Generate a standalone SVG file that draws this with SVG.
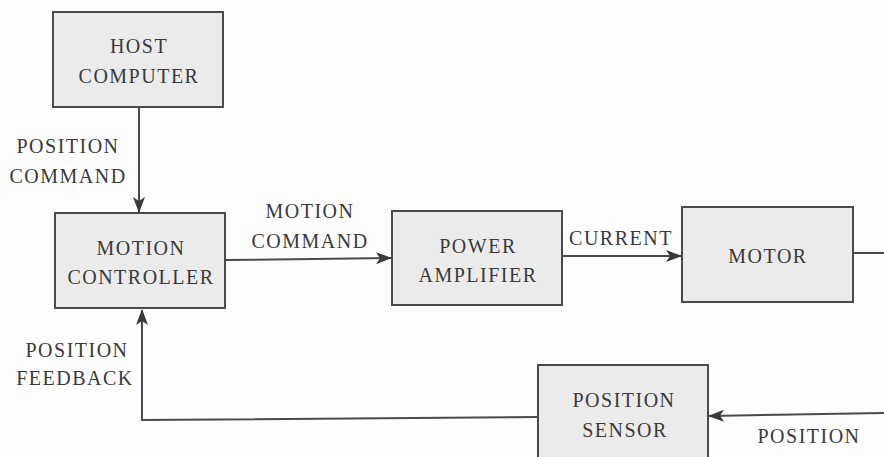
<svg xmlns="http://www.w3.org/2000/svg" width="884" height="457" viewBox="0 0 884 457" font-family="Liberation Serif, DejaVu Serif, serif">
<defs>
<marker id="ah" viewBox="0 0 16 12" refX="15" refY="6" markerWidth="16" markerHeight="12" markerUnits="userSpaceOnUse" orient="auto">
<path d="M0,0 L16,6 L0,12 L4,6 Z" fill="#3a3a3a"/>
</marker>
</defs>
<style>
.box{fill:#ebebeb;stroke:#4a4a4a;stroke-width:2}
.t{font-size:20px;letter-spacing:1.5px;fill:#3a3a3a;text-anchor:middle}
.c{fill:none;stroke:#4a4a4a;stroke-width:2}
</style>
<rect width="884" height="457" fill="#fdfdfd"/>
<g id="host-computer">
<rect class="box" x="53" y="12" width="170" height="95"/>
<text class="t" x="139" y="53">HOST</text>
<text class="t" x="139" y="83">COMPUTER</text>
</g>
<g id="motion-controller">
<rect class="box" x="55" y="213" width="170" height="95"/>
<text class="t" x="141" y="255">MOTION</text>
<text class="t" x="141" y="284">CONTROLLER</text>
</g>
<g id="power-amplifier">
<rect class="box" x="392" y="211" width="170" height="94"/>
<text class="t" x="478" y="253">POWER</text>
<text class="t" x="478" y="282">AMPLIFIER</text>
</g>
<g id="motor">
<rect class="box" x="682" y="207" width="171" height="95"/>
<text class="t" x="768" y="263">MOTOR</text>
</g>
<g id="position-sensor">
<rect class="box" x="538" y="365" width="170" height="100"/>
<text class="t" x="624" y="407">POSITION</text>
<text class="t" x="625" y="437">SENSOR</text>
</g>
<g id="connectors">
<line class="c" x1="139" y1="107" x2="139" y2="212" marker-end="url(#ah)"/>
<line class="c" x1="225" y1="260" x2="391" y2="258" marker-end="url(#ah)"/>
<line class="c" x1="562" y1="256" x2="681" y2="256" marker-end="url(#ah)"/>
<line class="c" x1="853" y1="253" x2="884" y2="253"/>
<line class="c" x1="884" y1="413" x2="709" y2="416" marker-end="url(#ah)"/>
<polyline class="c" points="538,417 142,420 142,310" marker-end="url(#ah)"/>
</g>
<g id="labels">
<text class="t" x="68" y="153">POSITION</text>
<text class="t" x="68" y="183">COMMAND</text>
<text class="t" x="310" y="218">MOTION</text>
<text class="t" x="310" y="248">COMMAND</text>
<text class="t" x="621" y="245">CURRENT</text>
<text class="t" x="77" y="357">POSITION</text>
<text class="t" x="75" y="385">FEEDBACK</text>
<text class="t" x="809" y="443">POSITION</text>
</g>
</svg>
